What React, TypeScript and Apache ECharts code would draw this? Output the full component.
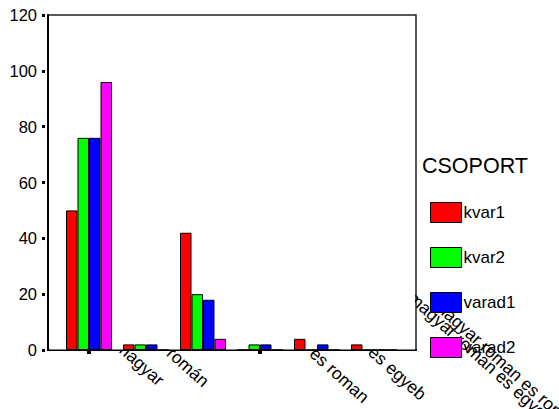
import React, { useEffect, useRef } from "react";
import * as echarts from "echarts";

const categories = [
  "magyar",
  "román",
  "magyar es roman",
  "magyar es egyeb",
  "magyar roman es egyeb",
  "magyar roman es roman",
];
const seriesNames = ["kvar1", "kvar2", "varad1", "varad2"];
const kvar1 = [50, 2, 42, 0, 4, 2];
const kvar2 = [76, 2, 20, 2, 0, 0];
const varad1 = [76, 2, 18, 2, 2, 0];
const varad2 = [96, 0, 4, 0, 0, 0];
const yMin = 0;
const yMax = 120;
const yStep = 20;

// layout only: screen shift of each rotated label's centre from its tick
const labelShift: [number, number][] = [
  [51, 13],
  [42, 17],
  [113, 4],
  [114, 2],
  [164, 8],
  [133, 16],
];
const seriesColors = ["#ff0000", "#00ff00", "#0000ff", "#ff00ff"];

export default function App() {
  const ref = useRef<HTMLDivElement>(null);
  useEffect(() => {
    document.body.style.margin = "0";
    const chart = echarts.init(ref.current!, null, { renderer: "svg" });
    const font = "Arial, 'Liberation Sans', sans-serif";
    const data = [kvar1, kvar2, varad1, varad2];
    const coverRect = {
      type: "rect",
      silent: true,
      z: 1,
      shape: { x: 49.5, y: 16, width: 365.5, height: 333.5 },
      style: { fill: "#fff" },
    };
    chart.setOption({
      animation: false,
      backgroundColor: "#fff",
      title: {
        text: "CSOPORT",
        left: 422,
        top: 155,
        padding: 0,
        textStyle: { fontSize: 21.5, fontWeight: "normal", color: "#000", fontFamily: font },
      },
      legend: {
        orient: "vertical",
        left: 430,
        top: 202,
        padding: 0,
        itemWidth: 31,
        itemHeight: 20,
        itemGap: 24,
        icon: "rect",
        itemStyle: { borderColor: "#000", borderWidth: 1 },
        textStyle: { fontSize: 17, color: "#000", fontFamily: font, padding: [10, 0, 0, -3] },
        data: seriesNames,
      },
      grid: [
        {
          left: 48,
          top: 15,
          width: 368,
          height: 335,
          show: true,
          borderColor: "#222",
          borderWidth: 1.5,
          backgroundColor: "transparent",
          outerBoundsMode: "none",
        },
        { left: 60.5, top: 15, width: 342, height: 335, outerBoundsMode: "none" },
      ],
      xAxis: [
        {
          gridIndex: 0,
          type: "value",
          min: 0,
          max: 1,
          axisLine: { show: true, lineStyle: { color: "#000", width: 2 } },
          axisTick: { show: false },
          axisLabel: { show: false },
          splitLine: { show: false },
        },
        {
          gridIndex: 1,
          type: "category",
          data: categories,
          axisLine: { show: false },
          axisTick: { show: true, alignWithLabel: true, length: 4, lineStyle: { color: "#000", width: 4 } },
          axisLabel: { show: false },
          splitLine: { show: false },
        },
      ],
      yAxis: [
        {
          gridIndex: 0,
          type: "value",
          min: yMin,
          max: yMax,
          interval: yStep,
          axisLine: { show: true, lineStyle: { color: "#000", width: 2 } },
          axisTick: {
            show: true,
            length: 6,
            lineStyle: { color: "#000", width: 3, type: [3, 3], dashOffset: 3 },
          },
          axisLabel: { margin: 11, fontSize: 16.5, color: "#000", fontFamily: font, padding: [4, 0, 0, 0] },
          splitLine: { show: false },
        },
        { gridIndex: 1, type: "value", min: yMin, max: yMax, show: false, splitLine: { show: false } },
      ],
      graphic: [coverRect],
      series: seriesNames.map((name, i) => ({
        name,
        type: "bar",
        xAxisIndex: 1,
        yAxisIndex: 1,
        barWidth: 11.5,
        barGap: "0%",
        data: data[i],
        z: 3,
        itemStyle: { color: seriesColors[i], borderColor: "#000", borderWidth: 1 },
      })),
    });

    // category labels placed from the category axis' own pixel positions
    const axisY = chart.convertToPixel({ yAxisIndex: 1 }, 0) as number;
    const labelEls = categories.map((name, i) => {
      const tx = chart.convertToPixel({ xAxisIndex: 1 }, name) as number;
      const [dx, dy] = labelShift[i];
      return {
        type: "text",
        silent: true,
        z: 0,
        x: tx + dx,
        y: axisY + dy,
        rotation: (-42 * Math.PI) / 180,
        style: {
          text: name,
          x: 0,
          y: 0,
          align: "center",
          verticalAlign: "middle",
          fill: "#000",
          fontSize: 17.5,
          fontFamily: font,
        },
      };
    });
    chart.setOption({ graphic: [coverRect, ...labelEls] });
    return () => chart.dispose();
  }, []);
  return <div ref={ref} style={{ width: 559, height: 409 }} />;
}
